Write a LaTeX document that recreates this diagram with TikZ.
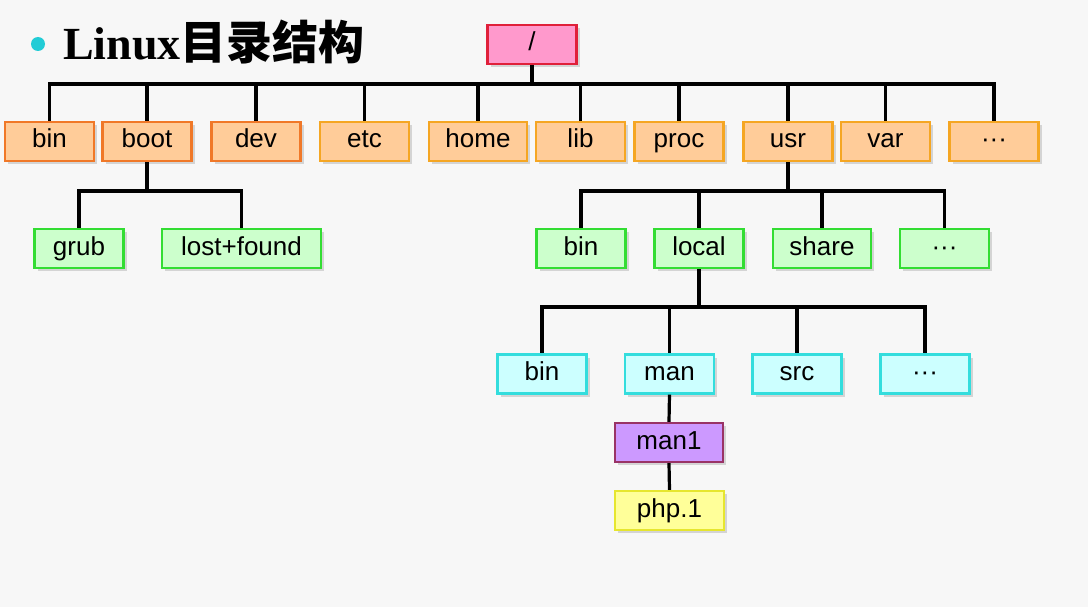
\documentclass[tikz,border=0pt]{standalone}
\usepackage{fontspec}
\setmainfont{Liberation Sans}
\newfontfamily\titlefont{Liberation Serif}
\newfontfamily\cjk{Noto Sans CJK SC}
\usepackage{tikz}
\usetikzlibrary{shadows}

\definecolor{rootfill}{HTML}{FF99CC}
\definecolor{rootline}{HTML}{E0203A}
\definecolor{topfill}{HTML}{FFCC99}
\definecolor{topline}{HTML}{F07828}
\definecolor{topline2}{HTML}{F5A623}
\definecolor{greenfill}{HTML}{CCFFCC}
\definecolor{greenline}{HTML}{33DD33}
\definecolor{cyanfill}{HTML}{CCFFFF}
\definecolor{cyanline}{HTML}{33DDDD}
\definecolor{manfill}{HTML}{CC99FF}
\definecolor{manline}{HTML}{993366}
\definecolor{phpfill}{HTML}{FFFF99}
\definecolor{phpline}{HTML}{E6E62E}
\definecolor{dotcyan}{HTML}{22CCD6}

\begin{document}
\begin{tikzpicture}[x=1pt, y=-1pt,
  dirbox/.style={draw, line width=2.2pt, minimum width=89pt, minimum height=39pt,
    inner sep=0pt, text height=18.5pt, text depth=5.5pt, font=\fontsize{26}{29}\selectfont,
    drop shadow={shadow xshift=3pt, shadow yshift=-3pt, fill=black!30, opacity=0.5}},
  rootbox/.style={dirbox, fill=rootfill, draw=rootline},
  topbox/.style={dirbox, fill=topfill, draw=topline},
  topbox2/.style={dirbox, fill=topfill, draw=topline2},
  greenbox/.style={dirbox, fill=greenfill, draw=greenline},
  cyanbox/.style={dirbox, fill=cyanfill, draw=cyanline},
  link/.style={line width=3.2pt, black}]

  \fill[white!97!black] (0,0) rectangle (1088,607);

  % title
  \fill[dotcyan] (38,44) circle (7pt);
  \node[anchor=base west, inner sep=0pt, font=\fontsize{46}{50}\selectfont] (title) at (63,60)
    {\titlefont\bfseries Linux\cjk\bfseries 目录结构};

  \node[rootbox] (root) at (532,44.5) {/};

  % first level
  \node[topbox]  (bin)   at (49.5,141.5)  {bin};
  \node[topbox]  (boot)  at (147,141.5)   {boot};
  \node[topbox]  (dev)   at (256,141.5)   {dev};
  \node[topbox2] (etc)   at (364.5,141.5) {etc};
  \node[topbox2, minimum width=98pt] (home) at (478,141.5) {home};
  \node[topbox2] (lib)   at (580.5,141.5) {lib};
  \node[topbox2] (proc)  at (679,141.5)   {proc};
  \node[topbox2] (usr)   at (788,141.5)   {usr};
  \node[topbox2] (var)   at (885.5,141.5) {var};
  \node[topbox2] (more1) at (994,141.5)   {···};

  % second level
  \node[greenbox] (grub) at (79,248.5) {grub};
  \node[greenbox, minimum width=159pt] (lostfound) at (241.5,248.5) {lost+found};
  \node[greenbox] (usrbin) at (581,248.5) {bin};
  \node[greenbox] (local)  at (699,248.5) {local};
  \node[greenbox, minimum width=98pt] (share) at (822,248.5) {share};
  \node[greenbox] (more2)  at (944.5,248.5) {···};

  % third level
  \node[cyanbox] (lbin)  at (542,374)   {bin};
  \node[cyanbox] (man)   at (669.5,374) {man};
  \node[cyanbox] (src)   at (797,374)   {src};
  \node[cyanbox] (more3) at (925,374)   {···};

  \node[dirbox, fill=manfill, draw=manline, minimum width=108pt] (manone) at (669,442.5) {man1};
  \node[dirbox, fill=phpfill, draw=phpline, minimum width=109pt] (php) at (669.5,510.5) {php.1};

  % connectors
  \coordinate (bus1) at (0,84);
  \coordinate (bus2) at (0,191);
  \coordinate (bus3) at (0,307);
  \foreach \d in {bin,boot,dev,etc,home,lib,proc,usr,var,more1}
    \draw[link] (root.south) -- (root.south |- bus1) -| (\d.north);
  \foreach \d in {grub,lostfound}
    \draw[link] (boot.south) -- (boot.south |- bus2) -| (\d.north);
  \foreach \d in {usrbin,local,share,more2}
    \draw[link] (usr.south) -- (usr.south |- bus2) -| (\d.north);
  \foreach \d in {lbin,man,src,more3}
    \draw[link] (local.south) -- (local.south |- bus3) -| (\d.north);
  \draw[link] (man.south) -- (manone.north);
  \draw[link] (manone.south) -- (php.north);

\end{tikzpicture}
\end{document}
